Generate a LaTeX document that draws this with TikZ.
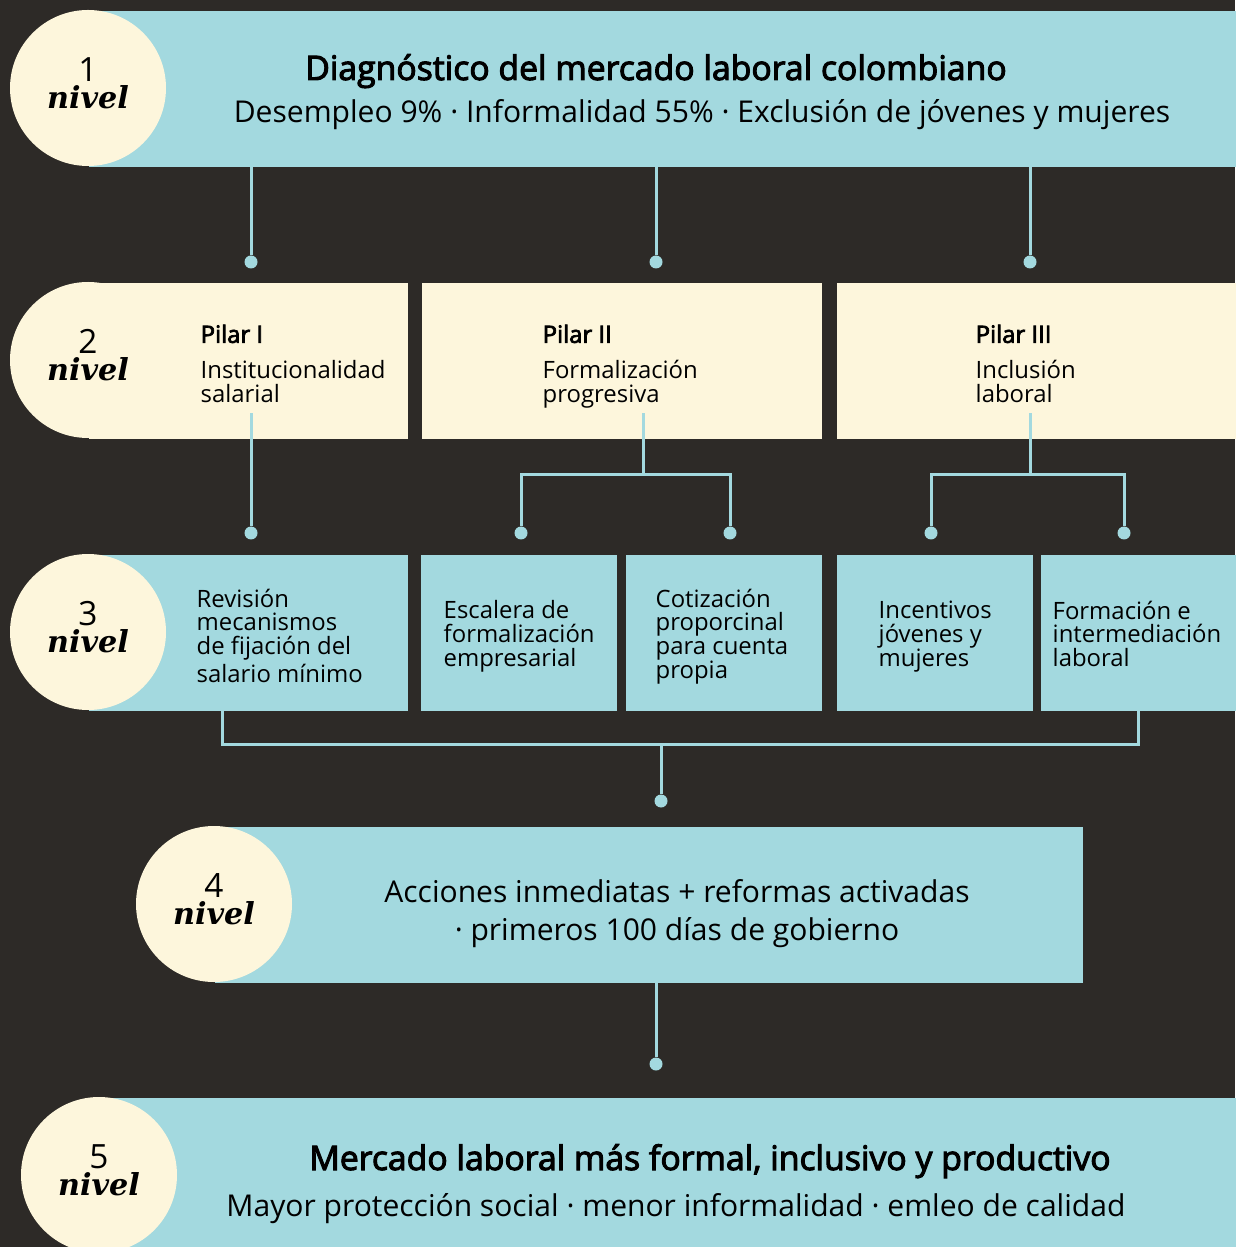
\documentclass[tikz,border=0pt]{standalone}
\usepackage{fontspec}
\setmainfont{Open Sans}[AutoFakeBold=3]
\newfontfamily\nivelfont{DejaVu Serif}
\usetikzlibrary{positioning,calc}
\definecolor{bgdark}{HTML}{2D2A27}
\definecolor{sky}{HTML}{A3D9DF}
\definecolor{cream}{HTML}{FDF6DC}
\tikzset{
  band/.style     = {fill=sky, anchor=north west, inner sep=0pt, minimum height=15.6mm},
  pillar/.style   = {band, fill=cream},
  badge/.style    = {circle, fill=cream, minimum size=15.6mm, inner sep=0pt, align=center,
                     font=\fontsize{9.5}{7.6}\selectfont},
  wire/.style     = {draw=sky, line width=0.3mm},
  dot/.style      = {circle, fill=sky, inner sep=0pt, minimum size=1.3mm},
  body/.style     = {anchor=north west, align=left, inner sep=0pt,
                     font=\fontsize{6.8}{6.8}\selectfont,
                     execute at begin node={\rule{0pt}{7pt}}},
  headline/.style = {anchor=base, inner sep=0pt, font=\fontsize{9.6}{10}\selectfont\bfseries},
  subline/.style  = {anchor=base, inner sep=0pt, font=\fontsize{8.55}{10}\selectfont},
}
\newcommand{\nivel}[1]{#1\\{\nivelfont\fontsize{8.6}{7.6}\selectfont\bfseries\itshape nivel}\rule[-2.8pt]{0pt}{2.8pt}}

\begin{document}
\begin{tikzpicture}[x=0.1mm,y=-0.1mm]
  \useasboundingbox (0,0) rectangle (1235,1247);
  \fill[bgdark] (0,0) rectangle (1235,1247);

  % nivel 1
  \node[band, minimum width=114.7mm] (lev1) at (88,10) {};
  \node[badge] (n1) at (88,88) {\nivel{1}};
  \node[headline] (t1) at (656,80) {Diagnóstico del mercado laboral colombiano};
  \node[subline] (s1) at (702,123) {Desempleo 9\% · Informalidad 55\% · Exclusión de jóvenes y mujeres};

  % nivel 2: pilares
  \node[pillar, minimum width=31.9mm] (p1) at (88,282) {};
  \node[badge] (n2) at (88,360) {\nivel{2}};
  \node[pillar, minimum width=40mm] (p2) at (421,282) {};
  \node[pillar, minimum width=39.9mm] (p3) at (836,282) {};
  \node[body] (pt1) at (200,324) {\textbf{Pilar I}\\[3.4pt]Institucionalidad\\salarial};
  \node[body] (pt2) at (542,324) {\textbf{Pilar II}\\[3.4pt]Formalización\\progresiva};
  \node[body] (pt3) at (975,324) {\textbf{Pilar III}\\[3.4pt]Inclusión\\laboral};

  % nivel 3: medidas
  \node[band, minimum width=31.9mm] (b1) at (88,554) {};
  \node[badge] (n3) at (88,632) {\nivel{3}};
  \foreach \nm/\x/\w in {b2/420/19.6, b3/625/19.6, b4/836/19.6, b5/1040/19.5}
    \node[band, minimum width=\w mm] (\nm) at (\x,554) {};
  \node[body] (bt1) at (196,588) {Revisión\\mecanismos\\de fijación del\\salario mínimo};
  \node[body] (bt2) at (443,600) {Escalera de\\formalización\\empresarial};
  \node[body] (bt3) at (655,588) {Cotización\\proporcinal\\para cuenta\\propia};
  \node[body] (bt4) at (878,600) {Incentivos\\jóvenes y\\mujeres};
  \node[body] (bt5) at (1052,600) {Formación e\\intermediación\\laboral};

  % nivel 4
  \node[band, minimum width=86.8mm] (lev4) at (214,826) {};
  \node[badge] (n4) at (214,904) {\nivel{4}};
  \node[subline] (t4a) at (677,902) {Acciones inmediatas + reformas activadas};
  \node[subline] (t4b) at (677,940) {· primeros 100 días de gobierno};

  % nivel 5
  \node[band, minimum width=113.6mm] (lev5) at (99,1097) {};
  \node[badge] (n5) at (99,1175) {\nivel{5}};
  \node[headline] (t5) at (710,1170) {Mercado laboral más formal, inclusivo y productivo};
  \node[subline] (s5) at (676,1216) {Mayor protección social · menor informalidad · emleo de calidad};

  % dots
  \foreach \nm/\x/\y in {d11/251/262, d12/656/262, d13/1030/262,
                         d21/251/533, d22/521/533, d23/730/533, d24/931/533, d25/1124/533,
                         d4/661/801, d5/656/1064}
    \node[dot] (\nm) at (\x,\y) {};
  \coordinate (k2) at (643,475);
  \coordinate (k3) at (1030,475);
  \coordinate (j1) at (222,744);
  \coordinate (j5) at (1138,744);

  % connectors
  \foreach \d in {d11,d12,d13}
    \draw[wire] ([yshift=2.6mm]lev1.south -| \d) -- (\d);
  \draw[wire] ([yshift=2.6mm]p1.south -| d21) -- (d21);
  \draw[wire] ([yshift=2.6mm]p2.south -| k2) -- (k2);
  \draw[wire] (d22) |- (k2) -| (d23);
  \draw[wire] ([yshift=2.6mm]p3.south -| k3) -- (k3);
  \draw[wire] (d24) |- (k3) -| (d25);
  \draw[wire] (b1.south -| j1) -- (j1) -- (j5) -- (b5.south -| j5);
  \draw[wire] (j1 -| d4) -- (d4);
  \draw[wire] (lev4.south -| d5) -- (d5);
\end{tikzpicture}
\end{document}
